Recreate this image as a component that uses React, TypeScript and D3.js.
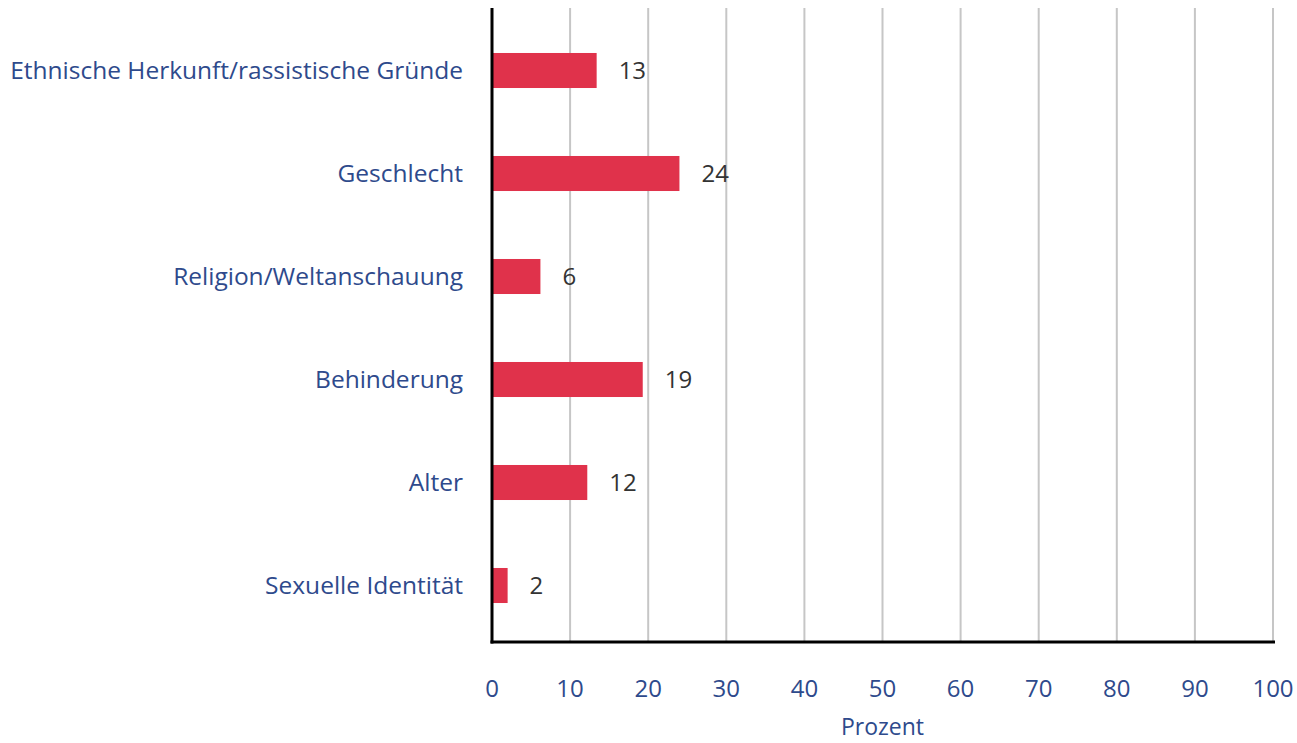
import React, { useEffect, useRef } from 'react'
import * as d3 from 'd3'

const categories = [
  'Ethnische Herkunft/rassistische Gründe',
  'Geschlecht',
  'Religion/Weltanschauung',
  'Behinderung',
  'Alter',
  'Sexuelle Identität',
]
const values = [13.4, 24, 6.2, 19.3, 12.2, 2]
const valueLabels = ['13', '24', '6', '19', '12', '2']
const xTicks = [0, 10, 20, 30, 40, 50, 60, 70, 80, 90, 100]
const axisTitle = 'Prozent'

const W = 1297
const H = 743
const textColor = '#2e4a8c'
const font = '"Open Sans", sans-serif'

const App = () => {
  const parentEl = useRef<SVGSVGElement | null>(null)

  useEffect(() => {
    const svg = d3.select(parentEl.current)
    svg.selectAll('*').remove()

    const left = 492
    const right = 1273
    const top = 8
    const bottom = 642

    const x = d3.scaleLinear().domain([0, 100]).range([left, right])
    const y = d3.scaleBand<string>()
      .domain(categories)
      .range([19, 637])
      .paddingInner(0.66)
      .paddingOuter(0.33)

    // gridlines
    svg.append('g')
      .selectAll('line')
      .data(xTicks.filter(t => t > 0))
      .enter()
      .append('line')
      .attr('x1', d => x(d))
      .attr('x2', d => x(d))
      .attr('y1', top)
      .attr('y2', bottom)
      .attr('stroke', '#c6c6c6')
      .attr('stroke-width', 2)

    // bars
    svg.append('g')
      .selectAll('rect')
      .data(values)
      .enter()
      .append('rect')
      .attr('x', x(0))
      .attr('y', (d, i) => y(categories[i])!)
      .attr('width', d => x(d) - x(0))
      .attr('height', y.bandwidth())
      .attr('fill', '#e0324b')

    // value labels
    svg.append('g')
      .selectAll('text')
      .data(values)
      .enter()
      .append('text')
      .attr('x', d => x(d) + 22)
      .attr('y', (d, i) => y(categories[i])! + y.bandwidth() / 2)
      .attr('dy', '0.35em')
      .attr('font-family', font)
      .attr('font-size', 24)
      .attr('fill', '#333')
      .text((d, i) => valueLabels[i])

    // category labels
    svg.append('g')
      .selectAll('text')
      .data(categories)
      .enter()
      .append('text')
      .attr('x', left - 29)
      .attr('y', d => y(d)! + y.bandwidth() / 2)
      .attr('dy', '0.35em')
      .attr('text-anchor', 'end')
      .attr('font-family', font)
      .attr('font-size', 24.5)
      .attr('fill', textColor)
      .text(d => d)

    // axes lines
    svg.append('line')
      .attr('x1', left).attr('x2', left)
      .attr('y1', top).attr('y2', bottom + 1.5)
      .attr('stroke', '#000').attr('stroke-width', 3)
    svg.append('line')
      .attr('x1', left - 1.5).attr('x2', right + 2)
      .attr('y1', bottom).attr('y2', bottom)
      .attr('stroke', '#000').attr('stroke-width', 3)

    // tick labels
    svg.append('g')
      .selectAll('text')
      .data(xTicks)
      .enter()
      .append('text')
      .attr('x', d => x(d))
      .attr('y', 697)
      .attr('text-anchor', 'middle')
      .attr('font-family', font)
      .attr('font-size', 24)
      .attr('fill', textColor)
      .text(d => d)

    svg.append('text')
      .attr('x', (left + right) / 2)
      .attr('y', 735)
      .attr('text-anchor', 'middle')
      .attr('font-family', font)
      .attr('font-size', 23)
      .attr('fill', textColor)
      .text(axisTitle)
  }, [])

  return (
    <svg ref={parentEl} width={W} height={H}
      style={{ position: 'absolute', left: 0, top: 0, background: '#fff' }} />
  )
}

export default App
